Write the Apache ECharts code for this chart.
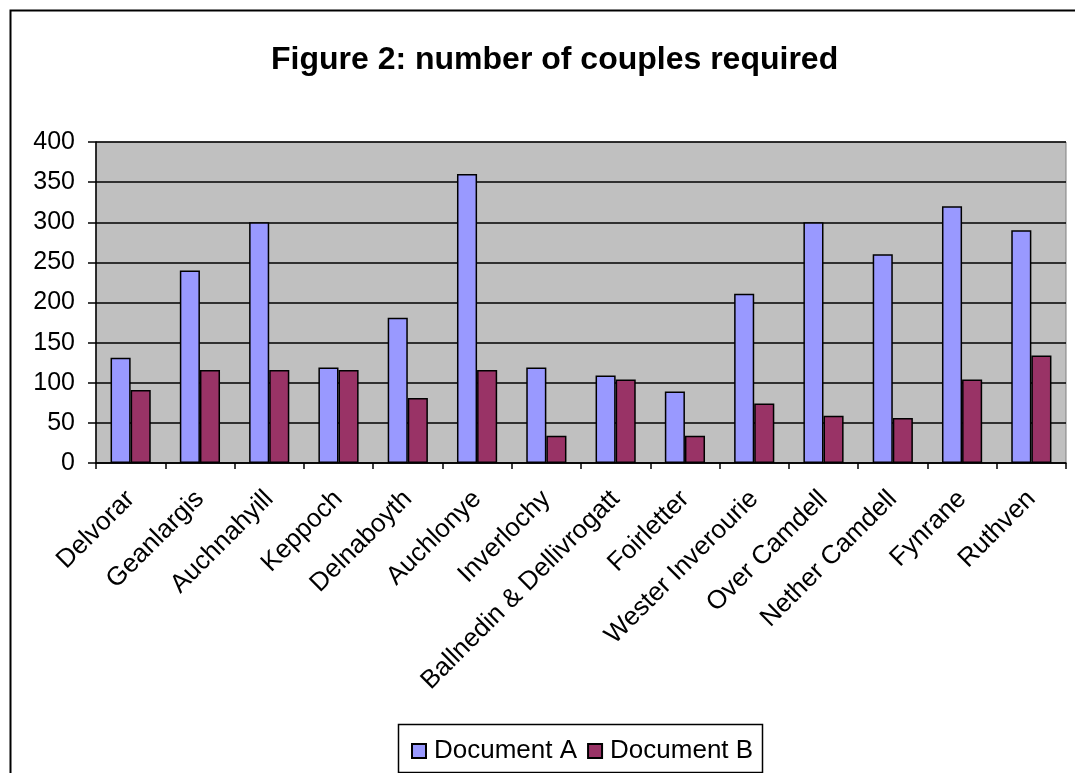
<!DOCTYPE html>
<html><head><meta charset="utf-8">
<script src="https://cdn.jsdelivr.net/npm/echarts@6/dist/echarts.min.js"></script>
<style>html,body{margin:0;padding:0;background:#fff}#c{width:1075px;height:773px}</style>
</head><body><div id="c"></div>
<script>
const categories = ["Delvorar","Geanlargis","Auchnahyill","Keppoch","Delnaboyth","Auchlonye","Inverlochy","Ballnedin & Dellivrogatt","Foirletter","Wester Inverourie","Over Camdell","Nether Camdell","Fynrane","Ruthven"];
const docA = [131,240,300,119,181,360,119,109,89,211,300,260,320,290];
const docB = [91,116,116,116,81,116,34,104,34,74,59,56,104,134];
const seriesNames = ["Document A","Document B"];
const titleText = "Figure 2: number of couples required";

const chart = echarts.init(document.getElementById('c'), null, {renderer:'canvas'});
const font = "Liberation Sans, Arial, sans-serif";
chart.setOption({
  animation:false,
  backgroundColor:'#fff',
  graphic:[
    {type:'rect', shape:{x:10.5,y:10.5,width:1080,height:800}, style:{fill:'none',stroke:'#000',lineWidth:2}, z:-1},
    {type:'rect', shape:{x:398.5,y:724.5,width:364,height:48}, style:{fill:'#fff',stroke:'#000',lineWidth:1.5}, z:0}
  ],
  title:{text:titleText,left:266,top:39,textStyle:{fontFamily:font,fontSize:32,fontWeight:'bold',color:'#000'}},
  legend:{data:seriesNames,top:733,left:406,icon:'rect',itemWidth:14,itemHeight:14,itemGap:10,
    textStyle:{fontFamily:font,fontSize:26,color:'#000',padding:[0,0,0,3]},z:5},
  grid:{left:96,right:9,top:142,bottom:310,show:true,backgroundColor:'#C0C0C0',borderColor:'#808080',borderWidth:1},
  xAxis:{type:'category',data:categories,
    axisLine:{lineStyle:{color:'#000',width:1.5}},
    axisTick:{show:true,length:6,lineStyle:{color:'#000',width:1.5}},
    axisLabel:{rotate:45,interval:0,fontFamily:font,fontSize:26,color:'#000',margin:32}},
  yAxis:{type:'value',min:0,max:400,interval:50,
    axisLine:{show:true,lineStyle:{color:'#000',width:1.5}},
    axisTick:{show:true,length:8,lineStyle:{color:'#000',width:1.5}},
    splitLine:{lineStyle:{color:'#000',width:1.5}},
    axisLabel:{fontFamily:font,fontSize:25,color:'#000',margin:21}},
  series:[
    {name:seriesNames[0],type:'bar',data:docA,barGap:'0%',barCategoryGap:'42%',
     itemStyle:{color:'#9999FF',borderColor:'#000',borderWidth:1.5}},
    {name:seriesNames[1],type:'bar',data:docB,
     itemStyle:{color:'#993366',borderColor:'#000',borderWidth:1.5}}
  ]
});
</script></body></html>
